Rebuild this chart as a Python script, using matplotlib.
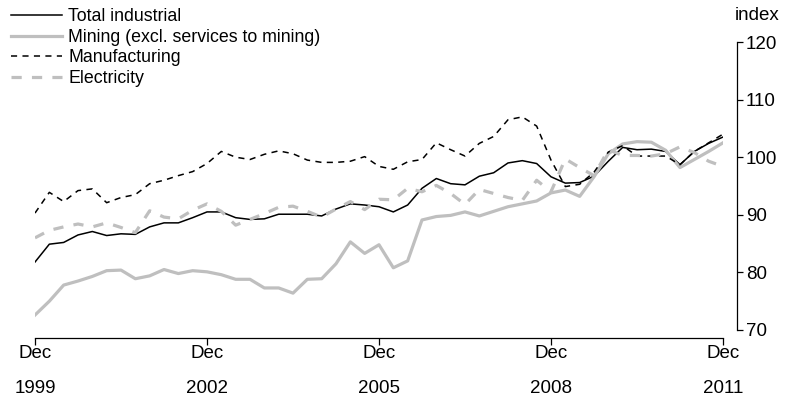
import numpy as np
import matplotlib
matplotlib.use('Agg')
import matplotlib.pyplot as plt

plt.rcParams['font.family'] = ['Liberation Sans', 'DejaVu Sans']

# quarterly index values, Dec 1999 .. Dec 2011
quarters = np.arange(49)
total = [81.8, 84.9, 85.2, 86.5, 87.1, 86.4, 86.7, 86.6, 87.9, 88.6,
         88.6, 89.5, 90.5, 90.5, 89.5, 89.2, 89.3, 90.1, 90.1, 90.1,
         89.8, 91.0, 91.9, 91.7, 91.4, 90.5, 91.7, 94.6, 96.3, 95.4,
         95.2, 96.7, 97.3, 99.0, 99.4, 98.9, 96.6, 95.5, 95.6, 96.7,
         99.3, 101.7, 101.3, 101.4, 101.0, 98.7, 101.0, 102.4, 103.5]
mining = [72.6, 75.0, 77.8, 78.5, 79.3, 80.3, 80.4, 78.9, 79.4, 80.5,
          79.8, 80.3, 80.1, 79.6, 78.8, 78.8, 77.3, 77.3, 76.4, 78.8,
          78.9, 81.5, 85.3, 83.3, 84.8, 80.8, 82.0, 89.1, 89.7, 89.9,
          90.5, 89.8, 90.6, 91.4, 91.9, 92.4, 93.8, 94.3, 93.2, 96.6,
          100.6, 102.3, 102.7, 102.6, 101.2, 98.2, 99.6, 101.0, 102.5]
manuf = [90.3, 93.9, 92.3, 94.2, 94.5, 92.1, 93.0, 93.5, 95.4, 96.0,
         96.8, 97.5, 98.9, 101.0, 100.0, 99.6, 100.5, 101.1, 100.6, 99.5,
         99.1, 99.1, 99.3, 100.1, 98.4, 97.9, 99.2, 99.6, 102.5, 101.3,
         100.2, 102.4, 103.6, 106.5, 107.0, 105.4, 99.5, 94.9, 95.3, 97.4,
         100.9, 102.0, 100.2, 100.2, 100.2, 98.7, 101.0, 102.5, 104.0]
elec = [86.0, 87.3, 87.9, 88.4, 87.9, 88.6, 87.8, 86.9, 90.7, 89.6,
        89.3, 90.8, 91.9, 90.6, 88.2, 89.2, 90.2, 91.3, 91.5, 90.6,
        89.6, 91.0, 92.3, 90.9, 92.7, 92.6, 94.6, 94.0, 95.1, 93.7,
        91.8, 94.4, 93.7, 93.0, 92.5, 96.0, 94.0, 99.7, 98.2, 96.8,
        101.3, 100.3, 100.3, 100.2, 100.6, 101.8, 100.8, 99.3, 98.4]

tick_pos = [0, 12, 24, 36, 48]
tick_lab = ['Dec\n1999', 'Dec\n2002', 'Dec\n2005', 'Dec\n2008', 'Dec\n2011']
grey = '#bfbfbf'

fig = plt.figure(figsize=(7.93, 4.07), dpi=100)
ax = fig.add_axes([35/793, 1-330/407, (723-35)/793, (330-42)/407])

ax.plot(quarters, total, color='black', lw=1.1, label='Total industrial')
ax.plot(quarters, mining, color=grey, lw=2.3, label='Mining (excl. services to mining)')
ax.plot(quarters, manuf, color='black', lw=1.1, ls=(0, (4, 3.5)), label='Manufacturing')
ax.plot(quarters, elec, color=grey, lw=2.3, ls=(0, (3.2, 3.2)), label='Electricity')

ax.set_xlim(0, 48)
ax.set_ylim(70, 120)
ax.spines['top'].set_visible(False)
ax.spines['left'].set_visible(False)
ax.spines['right'].set_position(('outward', 10))
ax.spines['bottom'].set_position(('outward', 6))
ax.yaxis.tick_right()
ax.set_yticks([70, 80, 90, 100, 110, 120])
ax.tick_params(axis='y', direction='out', length=4.5, width=0.9, labelsize=13.5, pad=2)
ax.set_xticks(tick_pos)
ax.set_xticklabels(tick_lab, linespacing=2.35)
ax.tick_params(axis='x', direction='out', length=5, width=0.9, labelsize=13.5, pad=0)
for s in ['right', 'bottom']:
    ax.spines[s].set_linewidth(0.9)

fig.text(757/793, 1-16/407, 'index', ha='center', va='center', fontsize=13.5)

fig.legend(loc='upper left', bbox_to_anchor=(0.0, 1.006), frameon=False,
           fontsize=12.8, handlelength=2.9, handletextpad=0.35, labelspacing=0.2,
           borderaxespad=0.2)

fig.savefig('out.png', dpi=100)
